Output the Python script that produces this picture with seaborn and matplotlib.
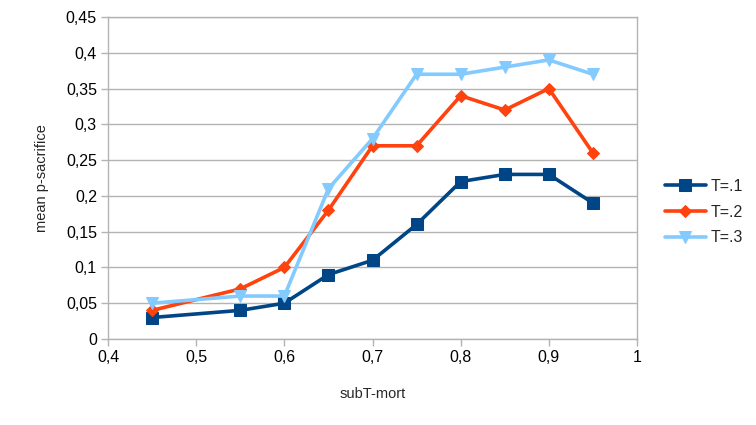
import matplotlib
matplotlib.use("Agg")
import matplotlib.pyplot as plt
import pandas as pd
import seaborn as sns
from matplotlib.ticker import FuncFormatter, MultipleLocator

# Data
sub_t_mort = [0.45, 0.55, 0.6, 0.65, 0.7, 0.75, 0.8, 0.85, 0.9, 0.95]
t1_values = [0.03, 0.04, 0.05, 0.09, 0.11, 0.16, 0.22, 0.23, 0.23, 0.19]
t2_values = [0.04, 0.07, 0.10, 0.18, 0.27, 0.27, 0.34, 0.32, 0.35, 0.26]
t3_values = [0.05, 0.06, 0.06, 0.21, 0.28, 0.37, 0.37, 0.38, 0.39, 0.37]
series_names = ["T=.1", "T=.2", "T=.3"]

colors = {"T=.1": "#004586", "T=.2": "#ff420e", "T=.3": "#83caff"}
markers = {"T=.1": "s", "T=.2": "D", "T=.3": "v"}
marker_sizes = {"T=.1": 9, "T=.2": 6.5, "T=.3": 8}

rows = []
for name, vals in zip(series_names, [t1_values, t2_values, t3_values]):
    for x, y in zip(sub_t_mort, vals):
        rows.append({"subT-mort": x, "mean p-sacrifice": y, "series": name})
df = pd.DataFrame(rows)

sns.set_style("white")
plt.rcParams["font.family"] = ["Liberation Sans", "DejaVu Sans"]

fig = plt.figure(figsize=(7.56, 4.25), dpi=100)
ax = fig.add_axes([0.1429, 0.2024, 0.6997, 0.7576])

for name in series_names:
    sub = df[df["series"] == name]
    sns.lineplot(data=sub, x="subT-mort", y="mean p-sacrifice", ax=ax,
                 color=colors[name], marker=markers[name],
                 markersize=marker_sizes[name], markeredgecolor=colors[name],
                 linewidth=2.6, label=name)

grid_col = "#b3b3b3"
ax.set_xlim(0.4, 1.0)
ax.set_ylim(0, 0.45)
ax.xaxis.set_major_locator(MultipleLocator(0.1))
ax.yaxis.set_major_locator(MultipleLocator(0.05))

def comma_fmt(v, pos):
    return ("%g" % round(v, 4)).replace(".", ",")

ax.xaxis.set_major_formatter(FuncFormatter(comma_fmt))
ax.yaxis.set_major_formatter(FuncFormatter(comma_fmt))

ax.grid(axis="y", color=grid_col, linewidth=1)
ax.grid(axis="x", visible=False)
for side in ["left", "bottom", "right", "top"]:
    ax.spines[side].set_color(grid_col)
    ax.spines[side].set_linewidth(1)
ax.tick_params(axis="both", direction="out", length=5, width=1, color=grid_col,
               labelsize=11.5, labelcolor="black", pad=3)
ax.tick_params(axis="x", bottom=True)
ax.tick_params(axis="y", left=True)

ax.set_xlabel("subT-mort", fontsize=10.5, labelpad=16)
ax.set_ylabel("mean p-sacrifice", fontsize=10.5, labelpad=12)

leg = ax.legend(loc="center left", bbox_to_anchor=(1.04, 0.394), frameon=False,
                fontsize=11.5, handlelength=2.6, handletextpad=0.3,
                labelspacing=0.68, borderaxespad=0)

fig.savefig("out.png", dpi=100)
